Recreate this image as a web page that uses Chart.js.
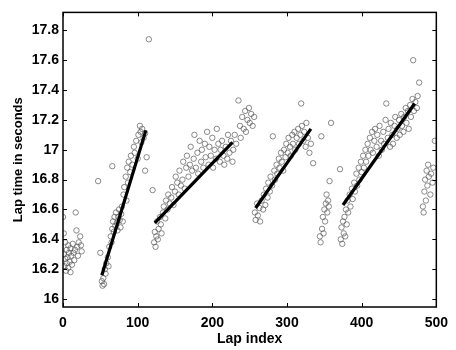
<!DOCTYPE html>
<html lang="en">
<head>
    <meta charset="UTF-8">
    <script src="https://cdn.jsdelivr.net/npm/chart.js"></script>
    <title>Lap times</title>
    <style>
        html, body { margin: 0; padding: 0; background: #fff; }
    </style>
</head>
<body>
<canvas id="myChart" width="456" height="350"></canvas>

<script>
    // lap index / lap time
    const lapIdx = [
        0, 1, 1, 2, 3, 3, 4, 5, 5, 6, 7, 7, 8, 9, 10, 10, 11, 12, 13, 14, 15, 16, 17, 18, 19, 20, 21, 23, 24, 25,
        47,
        50, 52, 53, 54, 55, 56, 57, 58, 60, 61, 62, 64, 65, 66, 66, 67, 68, 69, 70, 71, 72, 73, 74, 75, 76, 77, 78, 79, 80,
        81, 82, 84, 85, 86, 87, 88, 90, 91, 93, 95, 96, 98, 100, 101, 103, 104, 105, 106, 108, 110, 110, 112,
        115,
        120, 122, 123, 124, 125, 126, 127, 128, 130, 131, 132, 134, 135, 137, 138, 140, 141, 143, 145, 146, 148, 150,
        151, 153, 155, 156, 158, 160, 161, 163, 165, 166, 168, 170, 171, 173, 175, 176, 178, 180, 181, 183, 185, 186,
        188, 190, 191, 193, 195, 196, 198, 200, 201, 203, 205, 206, 208, 210, 211, 213, 215, 216, 218, 220, 221, 223,
        225, 227, 228, 230, 232, 235, 237, 238, 240, 242, 244, 245, 247, 249, 250, 252, 254, 256,
        257, 258, 260, 261, 263, 264, 266, 268, 269, 271, 272, 274, 275, 277, 278, 280, 281, 283, 284, 286, 287, 289,
        290, 292, 293, 295, 296, 298, 299, 301, 302, 304, 305, 307, 308, 310, 311, 313, 315, 316, 318, 319, 320, 322,
        323, 325, 326, 328, 330, 332, 335,
        344, 345, 346, 347, 348, 349, 350, 351, 352, 353, 354, 355, 356, 357, 359,
        371, 372, 373, 374, 375, 376, 377, 378, 379, 380, 381, 382, 384, 385, 387, 388, 390, 391, 393, 394, 396, 397,
        399, 400, 402, 403, 405, 406, 408, 409, 411, 412, 414, 415, 417, 418, 420, 421, 423, 424, 426, 427, 429, 430,
        432, 433, 435, 436, 438, 439, 441, 442, 444, 445, 447, 448, 450, 451, 453, 454, 456, 457, 459, 460, 462, 463,
        465, 466, 468, 469, 470, 472, 474, 475, 477,
        482, 483, 484, 485, 486, 487, 488, 489, 490, 492, 493, 495, 496, 498
    ];
    const lapTime = [
        16.55, 16.44, 16.30, 16.22, 16.38, 16.27, 16.19, 16.33, 16.24, 16.28, 16.21, 16.36, 16.31, 16.25, 16.18, 16.34, 16.29, 16.23, 16.37, 16.31, 16.26, 16.33, 16.58, 16.46, 16.35, 16.29, 16.38, 16.42, 16.36, 16.32,
        16.79,
        16.31, 16.12, 16.09, 16.14, 16.10, 16.20, 16.17, 16.24, 16.28, 16.22, 16.35, 16.42, 16.38, 16.89, 16.47, 16.52, 16.45, 16.55, 16.49, 16.58, 16.51, 16.46, 16.55, 16.60, 16.53, 16.48, 16.57, 16.62, 16.52,
        16.70, 16.75, 16.82, 16.66, 16.88, 16.78, 16.92, 16.85, 16.96, 16.90, 17.02, 16.98, 17.06, 16.94, 17.10, 17.16, 17.12, 17.05, 17.14, 17.08, 16.86, 17.11, 16.95,
        17.74,
        16.73, 16.38, 16.45, 16.35, 16.42, 16.52, 16.40, 16.47, 16.55, 16.50, 16.44, 16.58, 16.62, 16.54, 16.66, 16.60, 16.70, 16.64, 16.68, 16.75, 16.63, 16.72,
        16.82, 16.78, 16.70, 16.86, 16.76, 16.80, 16.92, 16.74, 16.88, 16.96, 16.82, 16.90, 17.02, 16.86, 16.94, 17.10, 16.88, 16.98, 16.84, 17.06, 16.92, 17.00,
        16.88, 17.04, 16.95, 17.12, 16.90, 17.02, 16.96, 17.08, 16.88, 17.00, 16.94, 17.14, 17.04, 16.92, 17.00, 17.06, 16.96, 16.90, 17.02, 16.94, 17.10, 16.98,
        17.06, 16.92, 17.00, 17.10, 17.04, 17.33, 17.16, 17.08, 17.22, 17.14, 17.26, 17.12, 17.20, 17.28, 17.18, 17.24, 17.16, 17.22,
        16.58, 16.53, 16.64, 16.56, 16.61, 16.52, 16.66, 16.60, 16.70, 16.63, 16.74, 16.68, 16.78, 16.72, 16.82, 16.76, 17.09, 16.86, 16.80, 16.90, 16.84, 16.94,
        16.88, 16.98, 16.92, 16.86, 17.00, 16.95, 17.04, 16.98, 17.08, 17.02, 16.96, 17.10, 17.04, 17.12, 17.00, 17.08, 17.14, 17.04, 17.10, 17.31, 17.16, 17.06,
        17.12, 17.02, 17.18, 17.08, 16.98, 17.04, 16.91,
        16.42, 16.38, 17.09, 16.47, 16.55, 16.44, 16.60, 16.52, 16.64, 16.70, 16.58, 16.66, 16.62, 16.79, 17.18,
        16.87, 16.40, 16.48, 16.37, 16.52, 16.44, 16.55, 16.42, 16.60, 16.50, 16.66, 16.58, 16.70, 16.62, 16.74, 16.67, 16.78, 16.72, 16.84, 16.76, 16.88, 16.80,
        16.92, 16.85, 16.96, 16.88, 17.00, 16.92, 17.04, 16.96, 17.08, 17.00, 17.12, 16.98, 17.06, 17.14, 17.02, 17.10, 16.96, 17.16, 17.06, 17.00, 17.12, 17.04,
        17.20, 17.31, 17.08, 17.14, 17.02, 17.18, 17.10, 17.04, 17.16, 17.22, 17.08, 17.14, 17.20, 17.10, 17.24, 17.16, 17.12, 17.22, 17.28, 17.18, 17.26, 17.14,
        17.30, 17.22, 17.34, 17.60, 17.26, 17.32, 17.28, 17.36, 17.45,
        16.62, 16.58, 16.72, 16.80, 16.66, 16.86, 16.76, 16.90, 16.82, 16.70, 16.84, 16.78, 16.88, 17.06
    ];

    // fitted segments (start / end)
    const fitX0 = [52, 123, 258, 375];
    const fitY0 = [16.16, 16.51, 16.61, 16.63];
    const fitX1 = [111, 227, 332, 471];
    const fitY1 = [17.13, 17.05, 17.14, 17.31];

    const xTicks = [0, 100, 200, 300, 400, 500];
    const yTicks = [16, 16.2, 16.4, 16.6, 16.8, 17, 17.2, 17.4, 17.6, 17.8];

    const fonte = { family: "'Liberation Sans', Arial, sans-serif", size: 14, weight: 'bold' };
    const fonteY = { family: "'Liberation Sans', Arial, sans-serif", size: 13, weight: 'bold' };

    const pontos = lapIdx.map((x, i) => ({ x: x, y: lapTime[i] }));

    const datasets = [];
    for (let i = 0; i < fitX0.length; i++) {
        datasets.push({
            type: 'line',
            data: [{ x: fitX0[i], y: fitY0[i] }, { x: fitX1[i], y: fitY1[i] }],
            borderColor: '#000',
            borderWidth: 3.2,
            pointRadius: 0,
            fill: false
        });
    }
    datasets.push({
        type: 'scatter',
        data: pontos,
        pointStyle: 'circle',
        pointRadius: 2.7,
        borderWidth: 1,
        borderColor: 'rgba(90,90,90,0.7)',
        backgroundColor: 'rgba(0,0,0,0)'
    });

    // box + inward ticks on all four sides
    const caixa = {
        id: 'caixa',
        afterDraw(chart) {
            const ctx = chart.ctx;
            const a = chart.chartArea;
            const sx = chart.scales.x, sy = chart.scales.y;
            ctx.save();
            ctx.strokeStyle = '#000';
            ctx.lineWidth = 1.5;
            ctx.strokeRect(a.left, a.top, a.right - a.left, a.bottom - a.top);
            ctx.lineWidth = 1;
            ctx.beginPath();
            xTicks.forEach(v => {
                const p = Math.round(sx.getPixelForValue(v)) + 0.5;
                ctx.moveTo(p, a.bottom); ctx.lineTo(p, a.bottom - 4);
                ctx.moveTo(p, a.top); ctx.lineTo(p, a.top + 4);
            });
            yTicks.forEach(v => {
                const p = Math.round(sy.getPixelForValue(v)) + 0.5;
                ctx.moveTo(a.left, p); ctx.lineTo(a.left + 4, p);
                ctx.moveTo(a.right, p); ctx.lineTo(a.right - 4, p);
            });
            ctx.stroke();
            ctx.restore();
        }
    };

    const config = {
        type: 'scatter',
        data: { datasets: datasets },
        options: {
            responsive: false,
            animation: false,
            layout: { padding: { top: 11, right: 10, left: 0, bottom: 0 } },
            plugins: { legend: { display: false }, tooltip: { enabled: false } },
            scales: {
                x: {
                    type: 'linear',
                    min: 0,
                    max: 500,
                    afterBuildTicks: (s) => { s.ticks = xTicks.map(v => ({ value: v })); },
                    afterFit: (s) => { s.height = 43; },
                    grid: { display: false, drawTicks: false },
                    border: { display: false },
                    ticks: { color: '#000', font: fonte, padding: 8, maxRotation: 0, callback: (v) => String(v) },
                    title: { display: true, text: 'Lap index', color: '#000', font: fonte, padding: { top: 0, bottom: 2 } }
                },
                y: {
                    type: 'linear',
                    min: 15.947,
                    max: 17.92,
                    afterBuildTicks: (s) => { s.ticks = yTicks.map(v => ({ value: v })); },
                    afterFit: (s) => { s.width = 63; },
                    grid: { display: false, drawTicks: false },
                    border: { display: false },
                    ticks: { color: '#000', font: fonte, padding: 4, callback: (v) => String(Math.round(v * 10) / 10) },
                    title: { display: true, text: 'Lap time in seconds', color: '#000', font: fonteY, padding: { top: 11, bottom: 0 } }
                }
            }
        },
        plugins: [caixa]
    };

    const myChart = new Chart(document.getElementById('myChart'), config);
</script>
</body>
</html>
